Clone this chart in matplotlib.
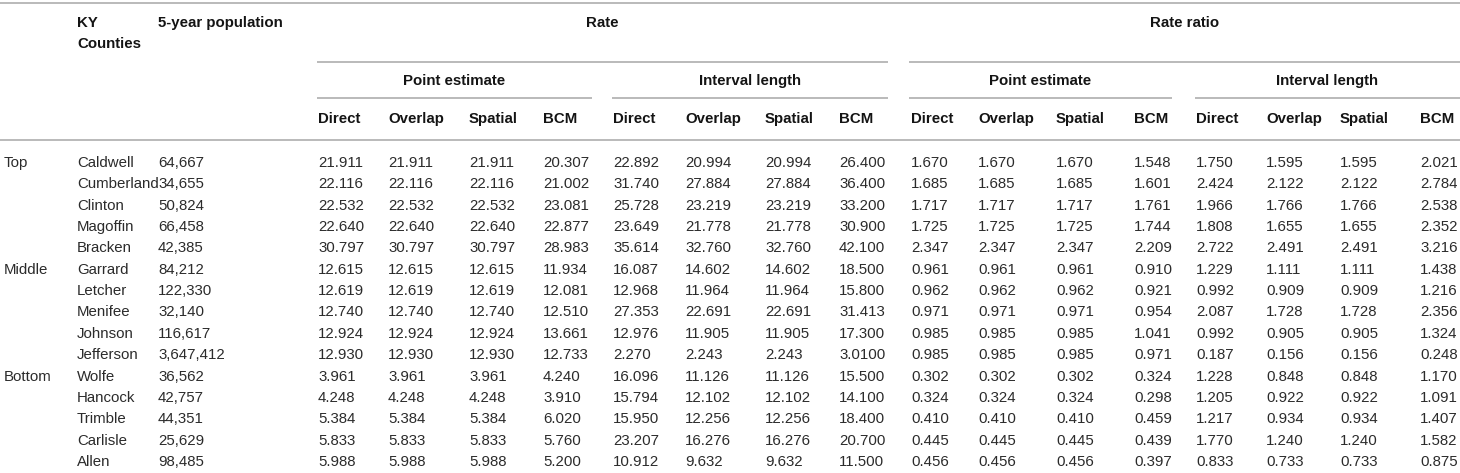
import matplotlib
matplotlib.use("Agg")
import matplotlib.pyplot as plt

# ---------------- data ----------------
groups = ["Top", "", "", "", "", "Middle", "", "", "", "", "Bottom", "", "", "", ""]
counties = ["Caldwell", "Cumberland", "Clinton", "Magoffin", "Bracken",
            "Garrard", "Letcher", "Menifee", "Johnson", "Jefferson",
            "Wolfe", "Hancock", "Trimble", "Carlisle", "Allen"]
population = ["64,667", "34,655", "50,824", "66,458", "42,385",
              "84,212", "122,330", "32,140", "116,617", "3,647,412",
              "36,562", "42,757", "44,351", "25,629", "98,485"]

methods = ["Direct", "Overlap", "Spatial", "BCM"]
top_groups = ["Rate", "Rate ratio"]
sub_groups = ["Point estimate", "Interval length"]

# Rate - point estimate
rate_pe_direct = ["21.911", "22.116", "22.532", "22.640", "30.797", "12.615", "12.619", "12.740",
                  "12.924", "12.930", "3.961", "4.248", "5.384", "5.833", "5.988"]
rate_pe_overlap = ["21.911", "22.116", "22.532", "22.640", "30.797", "12.615", "12.619", "12.740",
                   "12.924", "12.930", "3.961", "4.248", "5.384", "5.833", "5.988"]
rate_pe_spatial = ["21.911", "22.116", "22.532", "22.640", "30.797", "12.615", "12.619", "12.740",
                   "12.924", "12.930", "3.961", "4.248", "5.384", "5.833", "5.988"]
rate_pe_bcm = ["20.307", "21.002", "23.081", "22.877", "28.983", "11.934", "12.081", "12.510",
               "13.661", "12.733", "4.240", "3.910", "6.020", "5.760", "5.200"]
# Rate - interval length
rate_il_direct = ["22.892", "31.740", "25.728", "23.649", "35.614", "16.087", "12.968", "27.353",
                  "12.976", "2.270", "16.096", "15.794", "15.950", "23.207", "10.912"]
rate_il_overlap = ["20.994", "27.884", "23.219", "21.778", "32.760", "14.602", "11.964", "22.691",
                   "11.905", "2.243", "11.126", "12.102", "12.256", "16.276", "9.632"]
rate_il_spatial = ["20.994", "27.884", "23.219", "21.778", "32.760", "14.602", "11.964", "22.691",
                   "11.905", "2.243", "11.126", "12.102", "12.256", "16.276", "9.632"]
rate_il_bcm = ["26.400", "36.400", "33.200", "30.900", "42.100", "18.500", "15.800", "31.413",
               "17.300", "3.0100", "15.500", "14.100", "18.400", "20.700", "11.500"]
# Rate ratio - point estimate
rr_pe_direct = ["1.670", "1.685", "1.717", "1.725", "2.347", "0.961", "0.962", "0.971",
                "0.985", "0.985", "0.302", "0.324", "0.410", "0.445", "0.456"]
rr_pe_overlap = ["1.670", "1.685", "1.717", "1.725", "2.347", "0.961", "0.962", "0.971",
                 "0.985", "0.985", "0.302", "0.324", "0.410", "0.445", "0.456"]
rr_pe_spatial = ["1.670", "1.685", "1.717", "1.725", "2.347", "0.961", "0.962", "0.971",
                 "0.985", "0.985", "0.302", "0.324", "0.410", "0.445", "0.456"]
rr_pe_bcm = ["1.548", "1.601", "1.761", "1.744", "2.209", "0.910", "0.921", "0.954",
             "1.041", "0.971", "0.324", "0.298", "0.459", "0.439", "0.397"]
# Rate ratio - interval length
rr_il_direct = ["1.750", "2.424", "1.966", "1.808", "2.722", "1.229", "0.992", "2.087",
                "0.992", "0.187", "1.228", "1.205", "1.217", "1.770", "0.833"]
rr_il_overlap = ["1.595", "2.122", "1.766", "1.655", "2.491", "1.111", "0.909", "1.728",
                 "0.905", "0.156", "0.848", "0.922", "0.934", "1.240", "0.733"]
rr_il_spatial = ["1.595", "2.122", "1.766", "1.655", "2.491", "1.111", "0.909", "1.728",
                 "0.905", "0.156", "0.848", "0.922", "0.934", "1.240", "0.733"]
rr_il_bcm = ["2.021", "2.784", "2.538", "2.352", "3.216", "1.438", "1.216", "2.356",
             "1.324", "0.248", "1.170", "1.091", "1.407", "1.582", "0.875"]

value_columns = [rate_pe_direct, rate_pe_overlap, rate_pe_spatial, rate_pe_bcm,
                 rate_il_direct, rate_il_overlap, rate_il_spatial, rate_il_bcm,
                 rr_pe_direct, rr_pe_overlap, rr_pe_spatial, rr_pe_bcm,
                 rr_il_direct, rr_il_overlap, rr_il_spatial, rr_il_bcm]

# ---------------- layout (pixel space) ----------------
W, H = 1460, 473
fig = plt.figure(figsize=(W / 100, H / 100), dpi=100)
ax = fig.add_axes([0, 0, 1, 1])
ax.set_xlim(0, W)
ax.set_ylim(H, 0)
ax.axis("off")

FONT = "Liberation Sans"
FS = 10.8
TXT = "#2b2b2b"
HDR = "#141414"
LINE = "#b4b4b4"
LW = 1.3

x_group, x_county, x_pop = 4, 77, 158
x_vals = [318, 388, 469, 543, 613, 685, 765, 839,
          911, 978, 1056, 1134, 1196, 1266, 1340, 1420]

row_y0, row_dy = 163, 21.35
y_top_line, y_l1, y_l2, y_hdr_line = 3.5, 62, 98.5, 140.5

# spans of the group rules
top_spans = [(317, 888), (909, W)]
sub_spans = [(317, 592), (612, 888), (909, 1172), (1195, W)]


def line(x0, x1, y):
    ax.plot([x0, x1], [y, y], color=LINE, lw=LW, solid_capstyle="butt")


line(0, W, y_top_line)
for x0, x1 in top_spans:
    line(x0, x1, y_l1)
for x0, x1 in sub_spans:
    line(x0, x1, y_l2)
line(0, W, y_hdr_line)


def hdr(x, y, s, ha="left"):
    ax.text(x, y, s, ha=ha, va="center", fontsize=FS, fontweight="bold",
            family=FONT, color=HDR)


hdr(x_county, 23, "KY")
hdr(x_county, 44, "Counties")
hdr(x_pop, 23, "5-year population")
for (x0, x1), s in zip(top_spans, top_groups):
    hdr((x0 + x1) / 2, 23, s, ha="center")
for i, (x0, x1) in enumerate(sub_spans):
    hdr((x0 + x1) / 2, 81, sub_groups[i % 2], ha="center")
for i, x in enumerate(x_vals):
    hdr(x, 118.5, methods[i % 4])


def cell(x, y, s):
    ax.text(x, y, s, ha="left", va="center", fontsize=FS, family=FONT, color=TXT)


for r in range(len(counties)):
    y = row_y0 + r * row_dy
    if groups[r]:
        cell(x_group, y, groups[r])
    cell(x_county, y, counties[r])
    cell(x_pop, y, population[r])
    for c, col in enumerate(value_columns):
        cell(x_vals[c], y, col[r])

fig.savefig("out.png", dpi=100)
